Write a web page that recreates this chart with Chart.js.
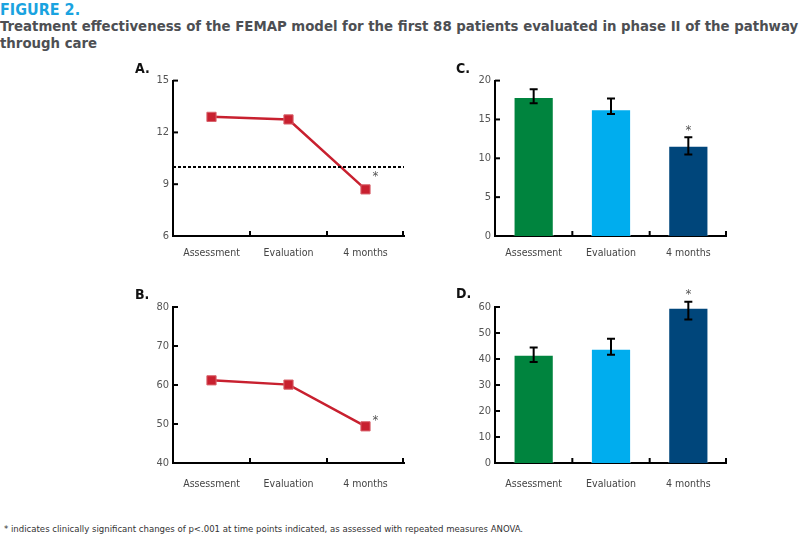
<!DOCTYPE html>
<html>
<head>
<meta charset="utf-8">
<script src="https://cdn.jsdelivr.net/npm/chart.js@4.4.1/dist/chart.umd.min.js"></script>
<style>
  body { margin: 0; width: 800px; height: 536px; background: #fff; position: relative; overflow: hidden;
         font-family: "DejaVu Sans Condensed", "Liberation Sans", sans-serif; }
  .title { position: absolute; left: 0; top: 0; font-weight: bold; font-size: 16px; color: #1aa3e0; }
  .sub { position: absolute; left: 0; top: 17px; font-weight: bold; font-size: 14.8px; line-height: 17px; color: #4d4f53; width: 810px; white-space: nowrap; }
  .lbl { position: absolute; font-weight: bold; font-size: 14px; color: #111; z-index: 2; }
  .foot { position: absolute; left: 4px; top: 523px; font-size: 9.5px; color: #333; }
  canvas { position: absolute; }
</style>
</head>
<body>
<div class="title">FIGURE 2.</div>
<div class="sub">Treatment effectiveness of the FEMAP model for the first 88 patients evaluated in phase II of the pathway<br>through care</div>
<div class="lbl" style="left:135px;top:60px">A.</div>
<div class="lbl" style="left:135px;top:286px">B.</div>
<div class="lbl" style="left:456px;top:60px">C.</div>
<div class="lbl" style="left:456px;top:285px">D.</div>
<canvas id="chartA" width="290" height="200" style="left:130px;top:70px"></canvas>
<canvas id="chartB" width="290" height="210" style="left:130px;top:287px"></canvas>
<canvas id="chartC" width="262" height="200" style="left:465px;top:70px"></canvas>
<canvas id="chartD" width="262" height="210" style="left:465px;top:287px"></canvas>
<div class="foot">* indicates clinically significant changes of p&lt;.001 at time points indicated, as assessed with repeated measures ANOVA.</div>
<script>
// Data
const categories = ["Assessment", "Evaluation", "4 months"];
const significant = [false, false, true];

// A. line panel
const scoreA = [12.9, 12.75, 8.7];
const cutoffA = 10;
// B. line panel
const scoreB = [61.2, 60.1, 49.4];
// C. bars with error bars
const meanC = [17.9, 16.3, 11.6];
const lowC = [17.1, 15.7, 10.5];
const highC = [18.9, 17.7, 12.7];
// D. bars with error bars
const meanD = [41.6, 43.9, 59.7];
const lowD = [38.8, 41.6, 55.2];
const highD = [44.4, 47.8, 62.0];

const barColors = ["#00843e", "#00adee", "#00467b"];
const lineRed = "#c8202f";
const fontFam = '"DejaVu Sans Condensed", "Liberation Sans", sans-serif';

// inward tick marks on both axes
const tickMarks = {
    id: "tickMarks",
    afterDraw(chart) {
        const c = chart.ctx, area = chart.chartArea;
        const x = chart.scales.x, y = chart.scales.y;
        c.save();
        c.strokeStyle = "#000";
        c.lineWidth = 2;
        y.ticks.forEach((t, i) => {
            const py = y.getPixelForTick(i);
            c.beginPath(); c.moveTo(area.left, py); c.lineTo(area.left + 5, py); c.stroke();
        });
        const n = categories.length;
        for (let i = 1; i <= n; i++) {
            const px = i < n ? (x.getPixelForValue(i - 1) + x.getPixelForValue(i)) / 2 : area.right - 1;
            c.beginPath(); c.moveTo(px, area.bottom); c.lineTo(px, area.bottom - 5); c.stroke();
        }
        c.restore();
    }
};

// error bars, cutoff line and asterisks
const extras = {
    id: "extras",
    afterDatasetsDraw(chart, args, opts) {
        const c = chart.ctx, area = chart.chartArea;
        const x = chart.scales.x, y = chart.scales.y;
        c.save();
        if (opts.cutoff !== undefined) {
            const py = y.getPixelForValue(opts.cutoff);
            c.strokeStyle = "#000"; c.lineWidth = 2; c.setLineDash([3, 2]);
            c.beginPath(); c.moveTo(area.left, py); c.lineTo(area.right, py); c.stroke();
            c.setLineDash([]);
        }
        c.fillStyle = "#555";
        c.font = "13px " + fontFam;
        c.textAlign = "center";
        c.textBaseline = "middle";
        categories.forEach((cat, i) => {
            const px = x.getPixelForValue(i);
            if (opts.low) {
                const top = y.getPixelForValue(opts.high[i]), bot = y.getPixelForValue(opts.low[i]);
                c.strokeStyle = "#000"; c.lineWidth = 2;
                c.beginPath();
                c.moveTo(px, top); c.lineTo(px, bot);
                c.moveTo(px - 4, top); c.lineTo(px + 4, top);
                c.moveTo(px - 4, bot); c.lineTo(px + 4, bot);
                c.stroke();
                if (significant[i]) c.fillText("*", px, top - 7);
            } else if (significant[i]) {
                const py = y.getPixelForValue(opts.values[i]);
                c.fillText("*", px + 10, py + opts.starDy);
            }
        });
        c.restore();
    }
};

function axes(min, max, step, yWidth, xPad) {
    return {
        x: {
            offset: true,
            grid: { display: false, drawTicks: false },
            border: { display: true, color: "#000", width: 2 },
            ticks: { color: "#444", padding: xPad, font: { family: fontFam, size: 10.5 } },
            afterFit(s) { s.height = 34; }
        },
        y: {
            min: min, max: max,
            grid: { display: false, drawTicks: false },
            border: { display: true, color: "#000", width: 2 },
            ticks: { stepSize: step, color: "#555", padding: 4, font: { family: fontFam, size: 11 } },
            afterFit(s) { s.width = yWidth; }
        }
    };
}

function lineChart(id, values, min, max, step, padTop, xPad, starDy, cutoff) {
    new Chart(document.getElementById(id), {
        type: "line",
        data: {
            labels: categories,
            datasets: [{
                data: values,
                borderColor: lineRed,
                backgroundColor: lineRed,
                borderWidth: 2.5,
                pointStyle: "rect",
                pointRadius: 6.5,
                pointBorderWidth: 1,
                pointBorderColor: "#d9646d",
                tension: 0
            }]
        },
        options: {
            responsive: false,
            animation: false,
            layout: { padding: { top: padTop, right: 16, left: 0, bottom: 0 } },
            plugins: { legend: { display: false }, tooltip: { enabled: false },
                       extras: { values: values, starDy: starDy, cutoff: cutoff } },
            scales: axes(min, max, step, 43, xPad)
        },
        plugins: [tickMarks, extras]
    });
}

function barChart(id, values, low, high, min, max, step, padTop, xPad) {
    new Chart(document.getElementById(id), {
        type: "bar",
        data: {
            labels: categories,
            datasets: [{
                data: values,
                backgroundColor: barColors,
                borderColor: "rgba(255,255,255,0.45)",
                borderWidth: 1,
                categoryPercentage: 1,
                barPercentage: 0.52
            }]
        },
        options: {
            responsive: false,
            animation: false,
            layout: { padding: { top: padTop, right: 0, left: 0, bottom: 0 } },
            plugins: { legend: { display: false }, tooltip: { enabled: false },
                       extras: { values: values, low: low, high: high } },
            scales: axes(min, max, step, 30, xPad)
        },
        plugins: [tickMarks, extras]
    });
}

lineChart("chartA", scoreA, 6, 15, 3, 10, 11, -13, cutoffA);
lineChart("chartB", scoreB, 40, 80, 10, 20, 15, -6);
barChart("chartC", meanC, lowC, highC, 0, 20, 5, 10, 11);
barChart("chartD", meanD, lowD, highD, 0, 60, 10, 20, 15);
</script>
</body>
</html>
